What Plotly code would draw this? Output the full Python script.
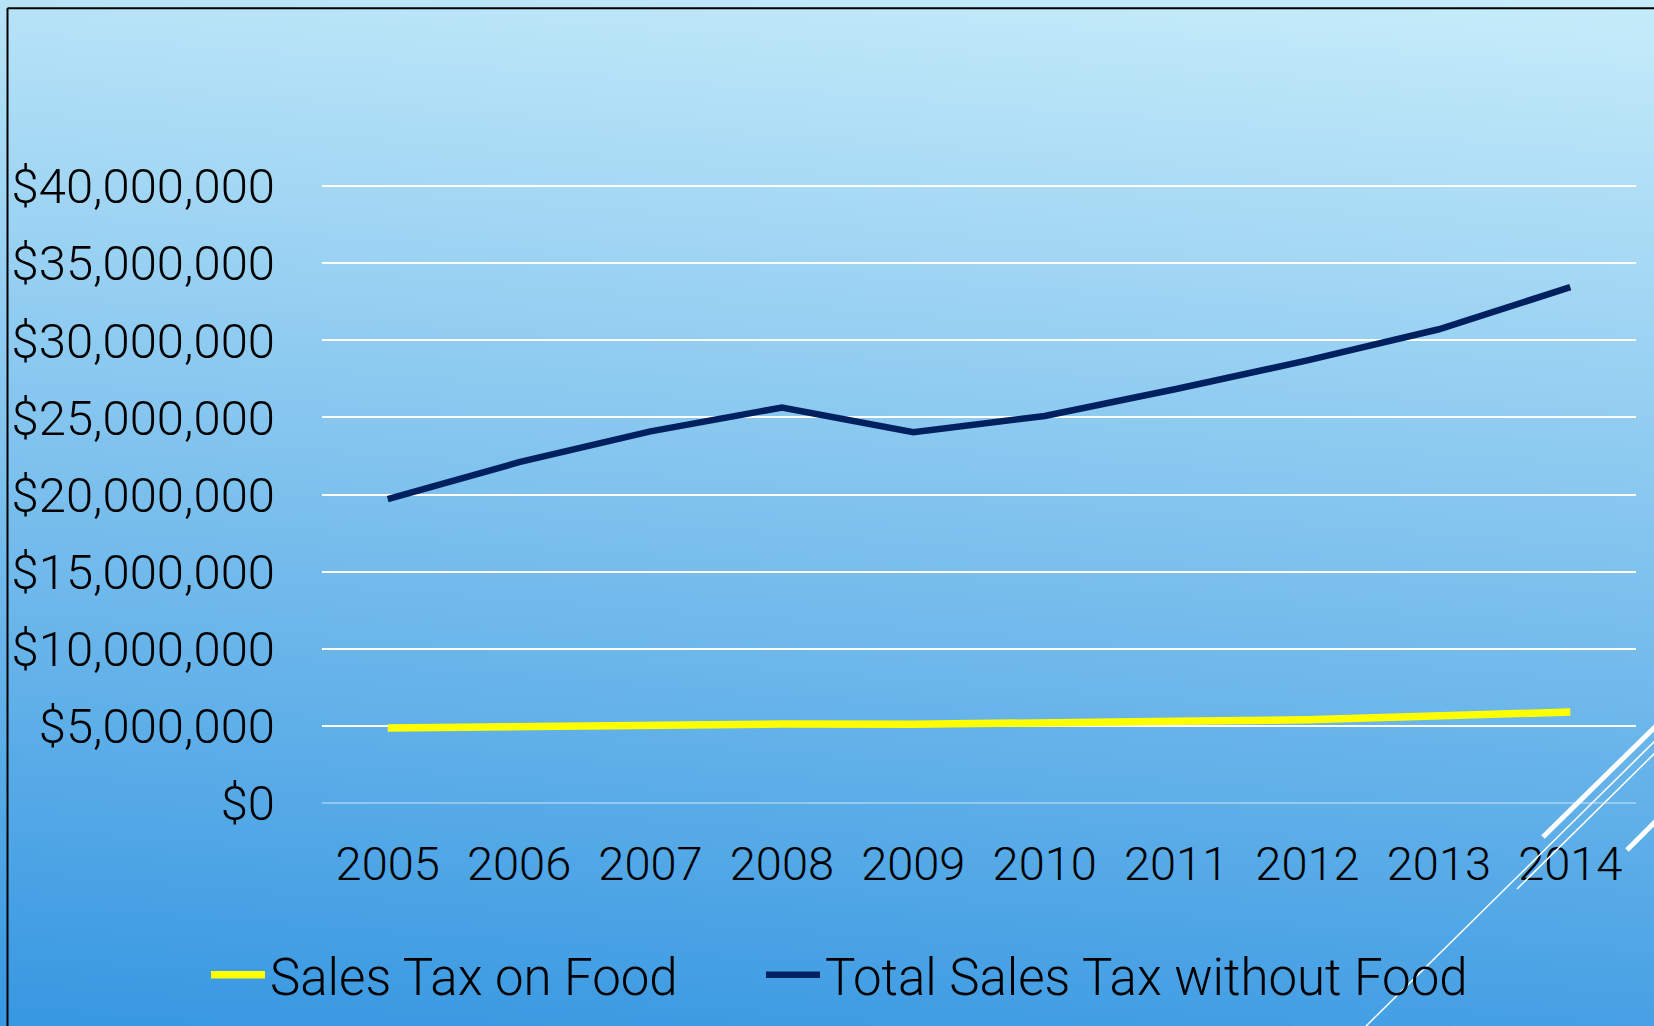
import base64
import struct
import zlib

import numpy as np
import plotly.graph_objects as go

# ---- data ---------------------------------------------------------------
years = ["2005", "2006", "2007", "2008", "2009", "2010", "2011", "2012", "2013", "2014"]
food_tax = [4.87e6, 4.95e6, 5.10e6, 5.12e6, 5.10e6, 5.15e6, 5.30e6, 5.40e6, 5.65e6, 5.90e6]
total_without_food = [19.7e6, 22.1e6, 24.1e6, 25.65e6, 24.05e6, 25.1e6, 26.85e6, 28.7e6, 30.72e6, 33.45e6]
y_ticks = [0, 5e6, 10e6, 15e6, 20e6, 25e6, 30e6, 35e6, 40e6]
y_tick_text = [f"${v:,.0f}" for v in y_ticks]

# ---- page geometry (pixels) ---------------------------------------------
W, H = 1654, 1026
Y_MAX = 40.4e6                     # a little headroom so the $40M grid line is kept
PX_PER_UNIT = 616.7 / 40e6
M_L, M_R, M_B = 322, 18, 223
PH = PX_PER_UNIT * Y_MAX
M_T = H - M_B - PH
PW = W - M_L - M_R


def xp(px):
    """page x pixel -> paper coordinate"""
    return (px - M_L) / PW


def yp(py):
    """page y pixel (from top) -> paper coordinate"""
    return (H - M_B - py) / PH


# ---- gradient background as an inline PNG -------------------------------
def gradient_png(w, h):
    yy, xx = np.mgrid[0:h, 0:w]
    t = yy / (h - 1) - 0.12 * (xx / (w - 1))
    top = np.array([184, 228, 248], dtype=float)
    bot = np.array([56, 152, 226], dtype=float)
    img = top + t[..., None] * (bot - top)
    img = np.clip(img, 0, 255).astype(np.uint8)
    raw = b"".join(b"\x00" + img[r].tobytes() for r in range(h))

    def chunk(tag, data):
        c = struct.pack(">I", len(data)) + tag + data
        return c + struct.pack(">I", zlib.crc32(tag + data) & 0xFFFFFFFF)

    png = b"\x89PNG\r\n\x1a\n"
    png += chunk(b"IHDR", struct.pack(">IIBBBBB", w, h, 8, 2, 0, 0, 0))
    png += chunk(b"IDAT", zlib.compress(raw, 9))
    png += chunk(b"IEND", b"")
    return "data:image/png;base64," + base64.b64encode(png).decode()


bg = gradient_png(414, 257)

FONT = "Roboto"

fig = go.Figure()
fig.add_trace(go.Scatter(
    x=years, y=food_tax, name="Sales Tax on Food", mode="lines",
    line=dict(color="#FFFF00", width=7.5), legend="legend",
))
fig.add_trace(go.Scatter(
    x=years, y=total_without_food, name="Total Sales Tax without Food", mode="lines",
    line=dict(color="#002060", width=6.5), legend="legend2",
))

shapes = []
# frame along the top and left of the slide
shapes.append(dict(type="line", xref="paper", yref="paper",
                   x0=xp(7.5), y0=yp(8.5), x1=xp(W + 10), y1=yp(8.5),
                   line=dict(color="#000000", width=2)))
shapes.append(dict(type="line", xref="paper", yref="paper",
                   x0=xp(7.5), y0=yp(8.5), x1=xp(7.5), y1=yp(H + 10),
                   line=dict(color="#000000", width=2)))
# decorative diagonal strokes, bottom-right corner
for (x0, y0, x1, y1, w) in [
    (1543, 837, 1660, 722, 5),
    (1362, 1030, 1660, 736, 1.5),
    (1517, 889, 1660, 748, 1.5),
    (1627, 850, 1660, 817, 5),
]:
    shapes.append(dict(type="line", xref="paper", yref="paper",
                       x0=xp(x0), y0=yp(y0), x1=xp(x1), y1=yp(y1),
                       line=dict(color="#FFFFFF", width=w)))

legend_style = dict(
    orientation="h", xref="container", yref="container",
    xanchor="left", y=(H - 975) / H, yanchor="middle",
    font=dict(family=FONT, size=51, color="#000000", weight=300),
    bgcolor="rgba(0,0,0,0)", itemclick=False, itemwidth=54,
)

fig.update_layout(
    width=W, height=H, autosize=False,
    margin=dict(l=M_L, r=M_R, t=M_T, b=M_B, pad=0),
    paper_bgcolor="#5aaee9",
    plot_bgcolor="rgba(0,0,0,0)",
    images=[dict(source=bg, xref="paper", yref="paper",
                 x=xp(0), y=yp(0), sizex=W / PW, sizey=H / PH,
                 xanchor="left", yanchor="top", sizing="stretch", layer="below")],
    shapes=shapes,
    showlegend=True,
    legend=dict(legend_style, x=206 / W),
    legend2=dict(legend_style, x=761 / W),
    font=dict(family=FONT, color="#000000"),
)

fig.update_xaxes(
    type="category", range=[-0.5, len(years) - 0.5],
    showgrid=False, zeroline=False, showline=False, ticks="",
    tickfont=dict(family=FONT, size=47, color="#000000", weight=300),
    ticklabelstandoff=29,
)
fig.update_yaxes(
    range=[0, Y_MAX], tickmode="array", tickvals=y_ticks, ticktext=y_tick_text,
    showgrid=True, gridcolor="#FFFFFF", gridwidth=2,
    zeroline=True, zerolinecolor="rgba(255,255,255,0.35)", zerolinewidth=2,
    showline=False, ticks="",
    tickfont=dict(family=FONT, size=49, color="#000000", weight=300),
    ticklabelstandoff=46,
)

fig.write_html("out.html")
